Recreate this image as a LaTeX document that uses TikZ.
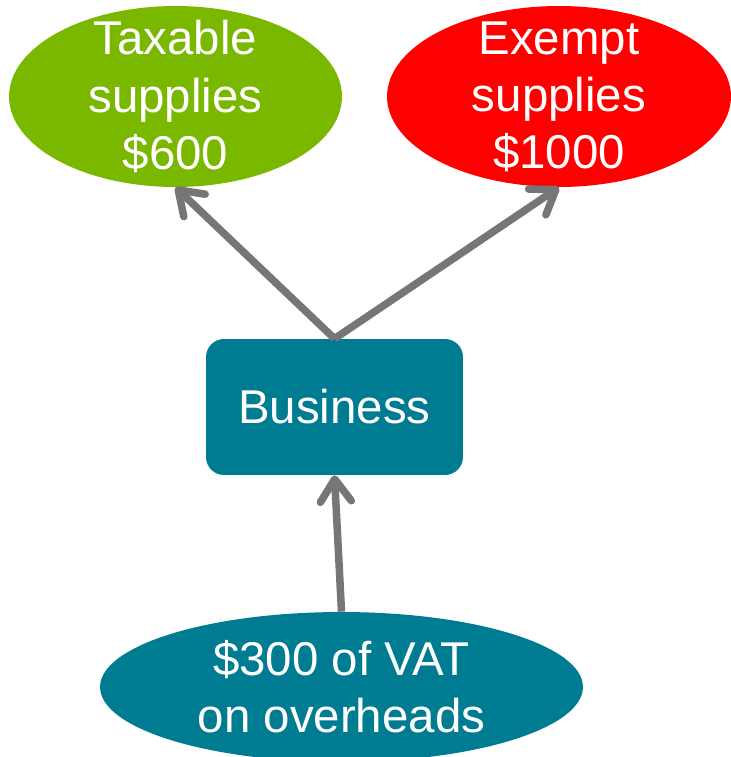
\documentclass[tikz,border=0pt]{standalone}
\usepackage{fontspec}
\setmainfont{Liberation Sans}
\usepackage{tikz}
\usetikzlibrary{shapes.geometric}
\usetikzlibrary{arrows.meta}
\definecolor{supply-green}{RGB}{122, 184, 0}
\definecolor{supply-red}{RGB}{255, 0, 0}
\definecolor{business-teal}{RGB}{0, 124, 146}
\definecolor{arrow-gray}{RGB}{118, 118, 120}
\tikzset{
   blob/.style={ellipse,inner sep=-0.5cm,text=white,align=center,font=\fontsize{27}{32.5}\selectfont},
   flow/.style={draw=arrow-gray,line width=0.15cm,-{Straight Barb[round,length=0.45cm,width=0.62cm]}}
}

\begin{document}
\begin{tikzpicture}[x=0.02cm,y=-0.02cm]
   \useasboundingbox (0,0) rectangle (730,757);
   \node[blob,fill=supply-green,minimum width=6.66cm,minimum height=3.62cm] (taxable) at (175.5,96.5) {Taxable\\supplies\\\$600};
   \node[blob,fill=supply-red,minimum width=6.88cm,minimum height=3.62cm] (exempt) at (559,96.5) {Exempt\\supplies\\\$1000};
   \node[blob,fill=business-teal,rectangle,rounded corners=0.36cm,minimum width=5.14cm,minimum height=2.72cm] (business) at (334.5,407) {Business};
   \node[blob,fill=business-teal,minimum width=9.66cm,minimum height=3.0cm] (overheads) at (341.5,687) {\$300 of VAT\\on overheads};
   \draw[flow] (business.north) -- (taxable.south);
   \draw[flow] (business.north) -- (exempt.south);
   \draw[flow] (overheads.north) -- (business.south);
   \end{tikzpicture}
\end{document}
